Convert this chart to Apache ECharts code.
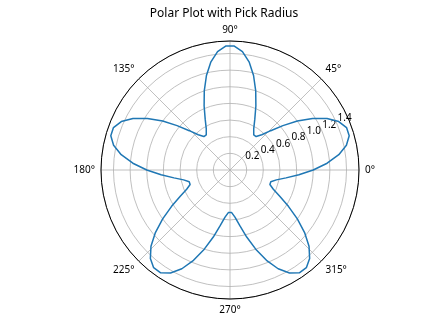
<!DOCTYPE html>
<html><head><meta charset="utf-8">
<script src="https://cdn.jsdelivr.net/npm/echarts@6/dist/echarts.min.js"></script>
<style>html,body{margin:0;padding:0;background:#fff}#c{width:448px;height:336px}</style>
</head><body><div id="c"></div>
<script>
// angles in degrees and radii
const angles = [
 0,4,8,12,16,20,24,28,32,36,40,44,48,52,56,60,64,68,
 72,76,80,84,88,92,96,100,104,108,112,116,120,124,128,132,136,140,
 144,148,152,156,160,164,168,172,176,180,184,188,192,196,200,204,208,212,
 216,220,224,228,232,236,240,244,248,252,256,260,264,268,272,276,280,284,
 288,292,296,300,304,308,312,316,320,324,328,332,336,340,344,348,352,356,
 360
];
const radii = [
 1.00,1.17,1.32,1.43,1.49,1.49,1.43,1.32,1.17,1.00,0.83,0.68,0.57,0.51,0.51,0.57,0.68,0.83,
 1.00,1.17,1.32,1.43,1.49,1.49,1.43,1.32,1.17,1.00,0.83,0.68,0.57,0.51,0.51,0.57,0.68,0.83,
 1.00,1.17,1.32,1.43,1.49,1.49,1.43,1.32,1.17,1.00,0.83,0.68,0.57,0.51,0.51,0.57,0.68,0.83,
 1.00,1.17,1.32,1.43,1.49,1.49,1.43,1.32,1.17,1.00,0.83,0.68,0.57,0.51,0.51,0.57,0.68,0.83,
 1.00,1.17,1.32,1.43,1.49,1.49,1.43,1.32,1.17,1.00,0.83,0.68,0.57,0.51,0.51,0.57,0.68,0.83,
 1.00
];
const angleTicks = [0,45,90,135,180,225,270,315];
const radiusTicks = [0.2,0.4,0.6,0.8,1.0,1.2,1.4];
const rMax = 1.55;
const titleText = 'Polar Plot with Pick Radius';

const font = 'Noto Sans';
const chart = echarts.init(document.getElementById('c'), null, {renderer:'canvas'});
chart.setOption({
  animation:false,
  title:{text:titleText,left:'center',top:3,textStyle:{fontFamily:font,fontSize:12,fontWeight:'normal',color:'#000'}},
  polar:[
    {center:[230,170],radius:129},
    {center:[237,163],radius:129}
  ],
  angleAxis:[
    {polarIndex:0,type:'value',min:0,max:360,interval:45,startAngle:0,clockwise:false,
     axisLine:{show:true,lineStyle:{color:'#000',width:1}},
     axisTick:{show:false},
     axisLabel:{show:true,margin:6,fontFamily:font,fontSize:10,color:'#000',
       formatter:v=>angleTicks.indexOf(v)>=0&&v<360?v+'°':''},
     splitLine:{show:true,lineStyle:{color:'#b0b0b0',width:0.8}}
    },
    {polarIndex:1,type:'value',min:0,max:360,startAngle:22.5,clockwise:false,
     axisLine:{show:false},axisTick:{show:false},axisLabel:{show:false},splitLine:{show:false}}
  ],
  radiusAxis:[
    {polarIndex:0,type:'value',min:0,max:rMax,interval:0.2,
     axisLine:{show:false},axisTick:{show:false},axisLabel:{show:false},
     splitLine:{show:true,lineStyle:{color:'#b0b0b0',width:0.8}}},
    {polarIndex:1,type:'value',min:0,max:rMax,interval:0.2,
     axisLine:{show:false},axisTick:{show:false},splitLine:{show:false},
     axisLabel:{show:true,margin:0,align:'center',verticalAlign:'middle',fontFamily:font,fontSize:10,color:'#000',
       formatter:v=>{const t=radiusTicks.find(x=>Math.abs(x-v)<1e-6);return t===undefined?'':t.toFixed(1);}}}
  ],
  series:[{
    type:'line',coordinateSystem:'polar',polarIndex:0,symbol:'none',
    lineStyle:{color:'#1f77b4',width:1.5},
    data:angles.map((a,i)=>[radii[i],a])
  }]
});
</script></body></html>
